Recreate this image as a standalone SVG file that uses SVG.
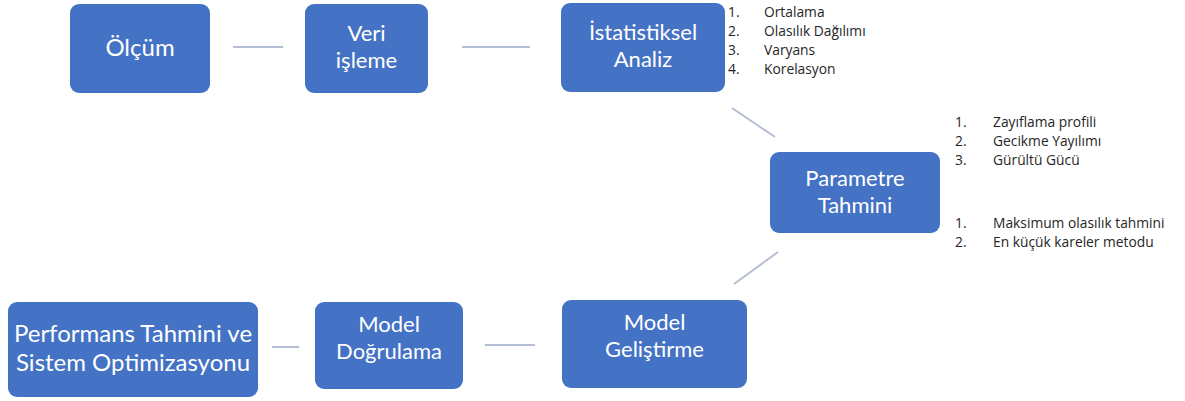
<svg xmlns="http://www.w3.org/2000/svg" width="1185" height="401" viewBox="0 0 1185 401">
<style>
.box{fill:#4472C4;}
.bt{font-family:Lato,"Open Sans","Liberation Sans",sans-serif;font-size:22px;fill:#FFFFFF;text-anchor:middle;}
.bl{font-size:24px;}
.lt{font-family:"Open Sans",Lato,"Liberation Sans",sans-serif;font-size:13.8px;fill:#262626;}
.con{stroke:#B4BED2;stroke-width:2;fill:none;}
</style>
<rect width="1185" height="401" fill="#FFFFFF"/>
<g id="connectors">
<line class="con" x1="233" y1="47" x2="283" y2="47"/>
<line class="con" x1="462" y1="47" x2="530" y2="47"/>
<line class="con" x1="732" y1="108" x2="775" y2="137"/>
<line class="con" x1="778" y1="252" x2="734" y2="284"/>
<line class="con" x1="485" y1="345" x2="535" y2="345"/>
<line class="con" x1="272" y1="347" x2="299" y2="347"/>
</g>
<g id="olcum">
<rect class="box" x="70" y="4" width="140" height="89" rx="9"/>
<text class="bt bl" x="140" y="56">Ölçüm</text>
</g>
<g id="veri-isleme">
<rect class="box" x="305" y="4" width="123" height="89" rx="9"/>
<text class="bt" x="366.5" y="41">Veri</text>
<text class="bt" x="366.5" y="67.5">işleme</text>
</g>
<g id="istatistiksel-analiz">
<rect class="box" x="561" y="3" width="164" height="89" rx="9"/>
<text class="bt" x="643" y="40">İstatistiksel</text>
<text class="bt" x="643" y="66.5">Analiz</text>
</g>
<g id="list-analiz">
<text class="lt" x="728" y="17">1.</text><text class="lt" x="764" y="17">Ortalama</text>
<text class="lt" x="728" y="36">2.</text><text class="lt" x="764" y="36">Olasılık Dağılımı</text>
<text class="lt" x="728" y="55">3.</text><text class="lt" x="764" y="55">Varyans</text>
<text class="lt" x="728" y="74">4.</text><text class="lt" x="764" y="74">Korelasyon</text>
</g>
<g id="parametre-tahmini">
<rect class="box" x="770" y="152" width="170" height="81" rx="9"/>
<text class="bt" x="855" y="186">Parametre</text>
<text class="bt" x="855" y="212.5">Tahmini</text>
</g>
<g id="list-parametre">
<text class="lt" x="955" y="127">1.</text><text class="lt" x="993" y="127">Zayıflama profili</text>
<text class="lt" x="955" y="146">2.</text><text class="lt" x="993" y="146">Gecikme Yayılımı</text>
<text class="lt" x="955" y="165">3.</text><text class="lt" x="993" y="165">Gürültü Gücü</text>
<text class="lt" x="955" y="228">1.</text><text class="lt" x="993" y="228">Maksimum olasılık tahmini</text>
<text class="lt" x="955" y="247">2.</text><text class="lt" x="993" y="247">En küçük kareler metodu</text>
</g>
<g id="model-gelistirme">
<rect class="box" x="562" y="300" width="185" height="88" rx="9"/>
<text class="bt" x="654.5" y="330">Model</text>
<text class="bt" x="654.5" y="356.5">Geliştirme</text>
</g>
<g id="model-dogrulama">
<rect class="box" x="315" y="302" width="148" height="87" rx="9"/>
<text class="bt" x="389" y="332">Model</text>
<text class="bt" x="389" y="358.5">Doğrulama</text>
</g>
<g id="performans">
<rect class="box" x="8" y="302" width="250" height="95" rx="9"/>
<text class="bt bl" x="133" y="342">Performans Tahmini ve</text>
<text class="bt bl" x="133" y="371">Sistem Optimizasyonu</text>
</g>
</svg>
